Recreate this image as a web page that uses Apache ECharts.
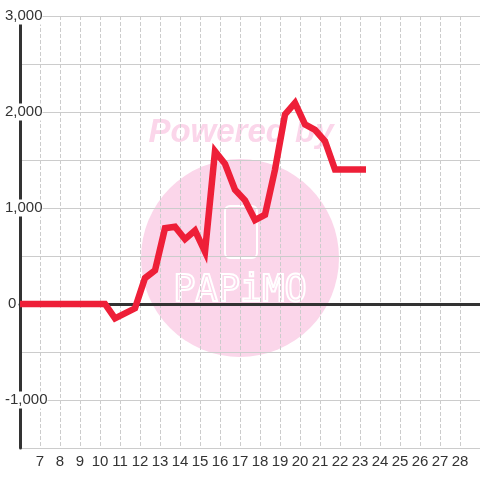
<!DOCTYPE html>
<html>
<head>
<meta charset="utf-8">
<script src="https://cdn.jsdelivr.net/npm/echarts@6/dist/echarts.min.js"></script>
<style>
  html, body { margin: 0; padding: 0; background: #fff; }
  #chart { width: 480px; height: 480px; }
</style>
</head>
<body>
<div id="chart"></div>
<script>
// 数据
const days = [6, 10.25, 10.75, 11.75, 12.25, 12.75, 13.25, 13.75, 14.25, 14.75, 15.25, 15.75,
    16.25, 16.75, 17.25, 17.75, 18.25, 18.75, 19.25, 19.75, 20.25, 20.75, 21.25, 21.75, 23.3];
const values = [0, 0, -150, -45, 270, 350, 790, 805, 675, 765, 545, 1590,
    1460, 1190, 1080, 875, 930, 1400, 1975, 2095, 1870, 1815, 1695, 1400, 1400];
const yTicks = [-1500, 3000, 500];   // min, max, interval
const xRange = [6, 29];

const font = 'Liberation Sans';

// 初始化图表
document.addEventListener('DOMContentLoaded', () => {
    const myChart = echarts.init(document.getElementById('chart'));

    const labelStyle = {
        color: '#333', fontSize: 15, fontFamily: font,
        backgroundColor: '#fff', padding: [1, 0, 1, 0]
    };

    const option = {
        backgroundColor: '#fff',
        animation: false,
        grid: { left: 20, right: 0, top: 16, bottom: 32 },
        // 水印
        graphic: [
            {
                type: 'circle', z: -1, silent: true,
                shape: { cx: 240, cy: 258, r: 99 },
                style: { fill: '#fbd6ea' }
            },
            {
                type: 'rect', z: -1, silent: true,
                shape: { x: 225, y: 206, width: 32, height: 52, r: 5 },
                style: { fill: 'none', stroke: '#fff', lineWidth: 2 }
            },
            {
                type: 'text', z: -1, silent: true,
                x: 241, y: 133,
                style: {
                    text: 'Powered by', fill: '#fbd6ea',
                    font: 'italic bold 33px ' + font,
                    align: 'center', verticalAlign: 'middle'
                }
            },
            {
                type: 'text', z: -1, silent: true,
                x: 240, y: 291,
                style: {
                    text: 'PAPiMO', fill: 'none', stroke: '#fff', lineWidth: 2,
                    font: '37px DejaVu Sans Mono',
                    align: 'center', verticalAlign: 'middle'
                }
            }
        ],
        xAxis: [
            {
                type: 'value',
                min: xRange[0], max: xRange[1], interval: 1,
                position: 'bottom',
                axisLine: { show: false, onZero: false },
                axisTick: { show: false },
                splitLine: { show: true, lineStyle: { color: '#ccc', type: 'dashed', width: 1 } },
                axisLabel: {
                    color: '#333', fontSize: 15, fontFamily: font, margin: 6,
                    showMinLabel: false, showMaxLabel: false
                }
            },
            {
                // 零线
                type: 'value',
                min: xRange[0], max: xRange[1],
                position: 'top',
                axisLine: { show: true, onZero: true, lineStyle: { color: '#333', width: 3 } },
                axisTick: { show: false },
                axisLabel: { show: false },
                splitLine: { show: false }
            }
        ],
        yAxis: {
            type: 'value',
            min: yTicks[0], max: yTicks[1], interval: yTicks[2],
            axisLine: { show: true, lineStyle: { color: '#333', width: 3 } },
            axisTick: { show: false },
            splitLine: { show: true, lineStyle: { color: '#ccc', width: 1 } },
            axisLabel: {
                margin: 15,
                align: 'left',
                formatter: v => {
                    if (v % 1000 !== 0) return '';
                    return (v === 0 ? '{z|' : '{a|') + v.toLocaleString('en-US') + '}';
                },
                rich: {
                    a: labelStyle,
                    z: Object.assign({}, labelStyle, { padding: [1, 0, 1, 3] })
                }
            }
        },
        series: [
            {
                type: 'line',
                xAxisIndex: 0,
                z: 5,
                data: days.map((d, i) => [d, values[i]]),
                showSymbol: false,
                symbol: 'none',
                lineStyle: { color: '#ee1f38', width: 6.5, join: 'miter', cap: 'butt' },
                itemStyle: { color: '#ee1f38' }
            }
        ]
    };

    myChart.setOption(option);
});
</script>
</body>
</html>
